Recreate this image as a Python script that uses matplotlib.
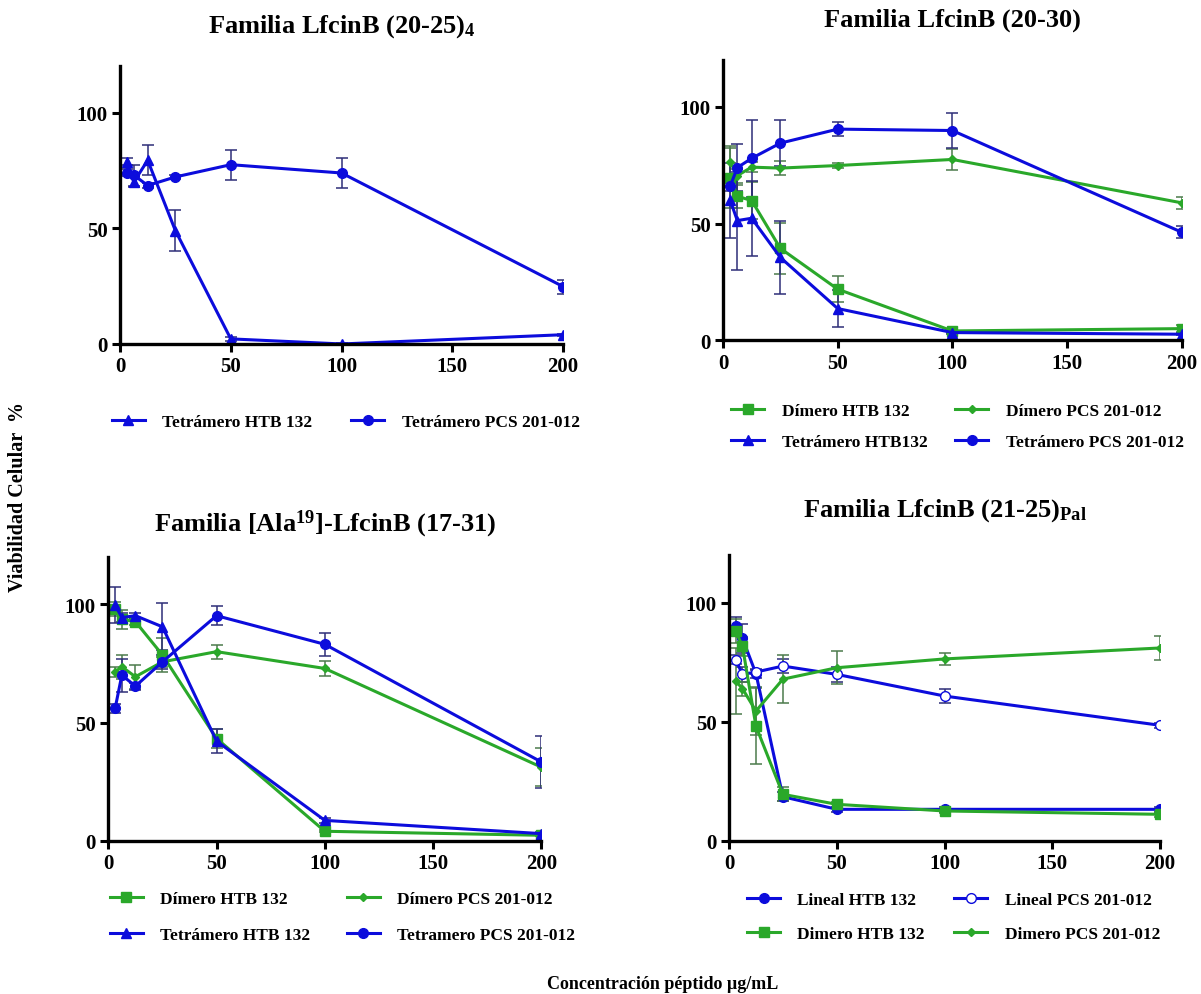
import numpy as np
import matplotlib
matplotlib.use("Agg")
import matplotlib.pyplot as plt

plt.rcParams['font.family'] = ['Liberation Serif', 'DejaVu Serif']
plt.rcParams['mathtext.fontset'] = 'custom'
plt.rcParams['mathtext.rm'] = 'Liberation Serif:bold'
plt.rcParams['mathtext.it'] = 'Liberation Serif:bold'
plt.rcParams['mathtext.bf'] = 'Liberation Serif:bold'

conc = [3.125, 6.25, 12.5, 25, 50, 100, 200]

# panel 1: Familia LfcinB (20-25)4
p1_tetra_htb = [78.7, 70, 79.4, 49, 2.2, 0, 4]
p1_tetra_htb_err = [1.5, 2, 6.5, 9, 1, 0.5, 0.5]
p1_tetra_pcs = [74, 73, 68.5, 72.2, 77.5, 73.9, 24.8]
p1_tetra_pcs_err = [1.5, 4.5, 1, 1, 6.5, 6.5, 3]

# panel 2: Familia LfcinB (20-30)
p2_di_htb = [69.5, 61.7, 59.9, 39.4, 21.9, 4, 5]
p2_di_htb_err = [13, 5, 8, 11, 5.5, 1, 1.5]
p2_di_pcs = [76.4, 70.6, 74.2, 73.8, 74.9, 77.5, 58.9]
p2_di_pcs_err = [7, 3, 2, 3, 1, 4.5, 2.5]
p2_tetra_htb = [60, 51.3, 52.3, 35.5, 13.6, 3.3, 2.6]
p2_tetra_htb_err = [16, 21, 16, 15.6, 8, 0.5, 0.5]
p2_tetra_pcs = [66, 74, 78, 84.5, 90.5, 89.9, 46.3]
p2_tetra_pcs_err = [2, 10, 16.5, 10, 3, 7.5, 2.5]

# panel 3: Familia [Ala19]-LfcinB (17-31)
p3_di_htb = [97.9, 93.7, 92.7, 78.6, 43.3, 4.1, 2.4]
p3_di_htb_err = [3, 4, 1.5, 7, 4, 0.5, 0.5]
p3_di_pcs = [71.5, 73.6, 69.4, 75.7, 80, 72.9, 31.2]
p3_di_pcs_err = [2, 5, 5, 2, 3, 3, 8]
p3_tetra_htb = [99.7, 94.4, 95.2, 90.5, 42.2, 8.7, 3.1]
p3_tetra_htb_err = [7.5, 2, 1, 10, 5, 1, 0.5]
p3_tetra_pcs = [56, 70.1, 65.4, 75.7, 95.2, 83.1, 33.4]
p3_tetra_pcs_err = [2, 7, 1.5, 3, 4, 4.8, 11]

# panel 4: Familia LfcinB (21-25)Pal
p4_lin_htb = [90.3, 85.1, 70.3, 18.6, 13.3, 13.3, 13.3]
p4_lin_htb_err = [4, 6, 2, 2, 1, 1, 1]
p4_lin_pcs = [76.2, 70, 71, 73.5, 70, 60.9, 48.6]
p4_lin_pcs_err = [2, 3, 1, 3, 3, 3, 1]
p4_di_htb = [88.2, 81.8, 48.2, 19.6, 15.4, 12.6, 11.2]
p4_di_htb_err = [5, 4, 16, 3, 1, 1, 1]
p4_di_pcs = [67.2, 64, 54.6, 68, 72.8, 76.5, 81.1]
p4_di_pcs_err = [14, 3, 10, 10, 7, 2.5, 5]

BLUE = "#0c0cdc"
GREEN = "#2aa82a"
EB_BLUE = "#2e2e78"
EB_GREEN = "#4c7a4c"


def series(ax, y, err, color, ecolor, marker, ms, label, mfc=None):
    h = ax.errorbar(conc, y, yerr=err, color=color, ecolor=ecolor, marker=marker,
                    ms=ms, mfc=mfc if mfc else color, mec=color, lw=2.2,
                    elinewidth=1.1, capsize=4.5, capthick=1.1, label=label)
    line = h.lines[0]
    line.set_label(label)
    return line


def style(ax):
    ax.set_xlim(0, 200)
    ax.set_ylim(0, 120)
    ax.set_xticks([0, 50, 100, 150, 200])
    ax.set_yticks([0, 50, 100])
    for s in ["top", "right"]:
        ax.spines[s].set_visible(False)
    for s in ["left", "bottom"]:
        ax.spines[s].set_linewidth(2.4)
    ax.tick_params(direction="out", length=6, width=2.2, labelsize=15, pad=3)
    for lab in ax.get_xticklabels() + ax.get_yticklabels():
        lab.set_fontweight("bold")


def legend(handles, x, y, colspace, rowspace):
    fig.legend(handles, [h.get_label() for h in handles], loc="center left",
               bbox_to_anchor=(x, y), ncol=2, frameon=False, prop=legfont,
               handlelength=1.9, columnspacing=colspace, handletextpad=1.0,
               labelspacing=rowspace, borderpad=0, borderaxespad=0)


fig = plt.figure(figsize=(12.01, 9.95), dpi=100)
ax1 = fig.add_axes([0.0999, 0.6533, 0.369, 0.279])
ax2 = fig.add_axes([0.602, 0.657, 0.382, 0.2814])
ax3 = fig.add_axes([0.0902, 0.1538, 0.3605, 0.2854])
ax4 = fig.add_axes([0.607, 0.1538, 0.359, 0.2870])

legfont = {"family": "Liberation Serif", "weight": "bold", "size": 12.5}
title_kw = {"fontsize": 19, "fontweight": "bold"}

# panel 1
h1 = series(ax1, p1_tetra_htb, p1_tetra_htb_err, BLUE, EB_BLUE, "^", 7, "Tetrámero HTB 132")
h2 = series(ax1, p1_tetra_pcs, p1_tetra_pcs_err, BLUE, EB_BLUE, "o", 7, "Tetrámero PCS 201-012")
style(ax1)
ax1.set_title("Familia LfcinB (20-25)$_4$", pad=25, **title_kw)
legend([h1, h2], 0.093, 0.575, 2.25, 0.7)

# panel 2
a = series(ax2, p2_di_htb, p2_di_htb_err, GREEN, EB_GREEN, "s", 7, "Dímero HTB 132")
b = series(ax2, p2_di_pcs, p2_di_pcs_err, GREEN, EB_GREEN, "D", 4.5, "Dímero PCS 201-012")
c = series(ax2, p2_tetra_htb, p2_tetra_htb_err, BLUE, EB_BLUE, "^", 7, "Tetrámero HTB132")
d = series(ax2, p2_tetra_pcs, p2_tetra_pcs_err, BLUE, EB_BLUE, "o", 7, "Tetrámero PCS 201-012")
style(ax2)
ax2.set_title("Familia LfcinB (20-30)", pad=25, **title_kw)
legend([a, c, b, d], 0.609, 0.5705, 1.6, 0.88)

# panel 3
a = series(ax3, p3_di_htb, p3_di_htb_err, GREEN, EB_GREEN, "s", 7, "Dímero HTB 132")
b = series(ax3, p3_di_pcs, p3_di_pcs_err, GREEN, EB_GREEN, "D", 4.5, "Dímero PCS 201-012")
c = series(ax3, p3_tetra_htb, p3_tetra_htb_err, BLUE, EB_BLUE, "^", 7, "Tetrámero HTB 132")
d = series(ax3, p3_tetra_pcs, p3_tetra_pcs_err, BLUE, EB_BLUE, "o", 7, "Tetramero PCS 201-012")
style(ax3)
ax3.set_title("Familia [Ala$^{19}$]-LfcinB (17-31)", pad=19, **title_kw)
legend([a, c, b, d], 0.0915, 0.0775, 2.1, 1.1)

# panel 4
a = series(ax4, p4_lin_htb, p4_lin_htb_err, BLUE, EB_BLUE, "o", 7, "Lineal HTB 132")
b = series(ax4, p4_lin_pcs, p4_lin_pcs_err, BLUE, EB_BLUE, "o", 7, "Lineal PCS 201-012", mfc="white")
c = series(ax4, p4_di_htb, p4_di_htb_err, GREEN, EB_GREEN, "s", 7, "Dimero HTB 132")
d = series(ax4, p4_di_pcs, p4_di_pcs_err, GREEN, EB_GREEN, "D", 4.5, "Dimero PCS 201-012")
style(ax4)
ax4.set_title("Familia LfcinB (21-25)$_{Pal}$", pad=29, **title_kw)
legend([a, c, b, d], 0.622, 0.0775, 1.7, 1.0)

fig.text(0.015, 0.5, "Viabilidad Celular  %", rotation=90, ha="center", va="center",
         fontsize=14.5, fontweight="bold")
fig.text(0.552, 0.011, "Concentración péptido µg/mL", ha="center", va="center",
         fontsize=13, fontweight="bold")

fig.savefig("out.png", dpi=100)
